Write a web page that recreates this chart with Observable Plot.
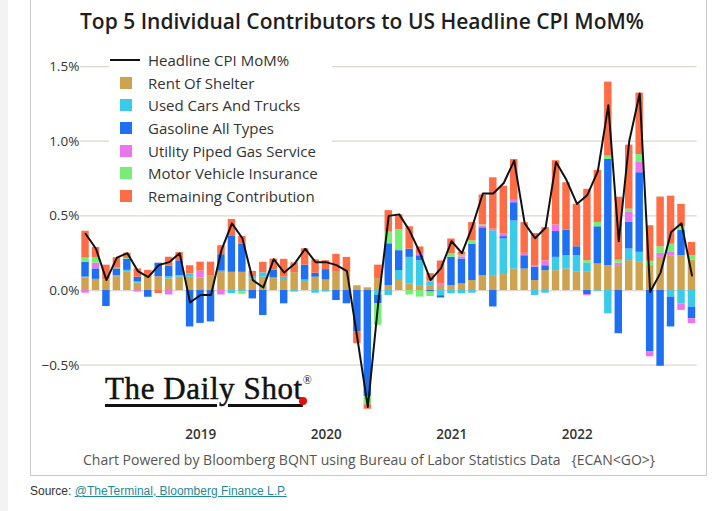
<!DOCTYPE html>
<html><head><meta charset="utf-8">
<script src="https://cdn.jsdelivr.net/npm/d3@7"></script>
<script src="https://cdn.jsdelivr.net/npm/@observablehq/plot@0.6"></script>
<style>
html,body{margin:0;padding:0;background:#fff;}
#page{position:relative;width:722px;height:511px;overflow:hidden;font-family:"Open Sans",sans-serif;}
#strip{position:absolute;left:0;top:0;width:8px;height:511px;background:#f3f3f3;}
#frame{position:absolute;left:30px;top:-1px;width:675px;height:475px;border:1px solid #c9c9c9;}
#chart{position:absolute;left:0;top:0;}
#title{position:absolute;left:80px;top:8px;font-size:21px;line-height:26px;color:#1e1e1e;white-space:nowrap;font-weight:600;}
#legend{position:absolute;left:109px;top:48px;width:223px;height:159px;background:#fff;}
.row{position:absolute;left:0;height:22px;width:223px;font-size:15px;line-height:22px;color:#333;white-space:nowrap;}
.row .lab{position:absolute;left:39px;top:0;}
.row .sw{position:absolute;left:11px;top:5px;width:12px;height:12px;}
.row .ln{position:absolute;left:1px;top:10px;width:30px;height:2px;background:#111;}
#logo{position:absolute;left:105px;top:369px;font-family:"Liberation Serif",serif;font-size:31px;line-height:31px;color:#111;letter-spacing:0.6px;white-space:nowrap;-webkit-text-stroke:0.5px #111;}
#logo .u{text-decoration:underline;text-decoration-thickness:2.5px;text-underline-offset:5px;text-decoration-skip-ink:auto;}
#logo sup{font-size:12px;position:relative;top:-4px;letter-spacing:0;-webkit-text-stroke:0;}
#dot{position:absolute;left:299px;top:397px;width:8px;height:8px;border-radius:50%;background:#e01010;}
#caption{position:absolute;left:83px;top:451px;font-size:14px;line-height:18px;color:#555;white-space:pre;}
#ytl{position:absolute;}
#source{position:absolute;left:30px;top:482px;font-family:"Liberation Sans",Arial,sans-serif;font-size:12px;line-height:18px;color:#333;white-space:nowrap;}
#source a{color:#1f8a98;text-decoration:underline;}
</style>
</head><body>
<div id="page">
  <div id="strip"></div>
  <div id="frame"></div>
  <div id="chart"></div>
  <div id="title"></div>
  <div id="legend"></div>
  <div id="logo"><span class="u">The Daily Shot</span><sup>®</sup></div>
  <div id="dot"></div>
  <div id="caption"></div>
  <div id="source">Source: <a href="#">@TheTerminal, Bloomberg Finance L.P.</a></div>
</div>
<script>
const titleText = "Top 5 Individual Contributors to US Headline CPI MoM%";
const captionText = "Chart Powered by Bloomberg BQNT using Bureau of Labor Statistics Data   {ECAN<GO>}";

const months = [
  "2018-01","2018-02","2018-03","2018-04","2018-05","2018-06","2018-07","2018-08","2018-09","2018-10","2018-11","2018-12",
  "2019-01","2019-02","2019-03","2019-04","2019-05","2019-06","2019-07","2019-08","2019-09","2019-10","2019-11","2019-12",
  "2020-01","2020-02","2020-03","2020-04","2020-05","2020-06","2020-07","2020-08","2020-09","2020-10","2020-11","2020-12",
  "2021-01","2021-02","2021-03","2021-04","2021-05","2021-06","2021-07","2021-08","2021-09","2021-10","2021-11","2021-12",
  "2022-01","2022-02","2022-03","2022-04","2022-05","2022-06","2022-07","2022-08","2022-09","2022-10","2022-11"
];

const seriesNames = ["Rent Of Shelter","Used Cars And Trucks","Gasoline All Types","Utility Piped Gas Service","Motor Vehicle Insurance","Remaining Contribution"];
const seriesColors = ["#CFA24F","#3ACBEA","#1F6FF2","#EC74EC","#74EE74","#FF6D47"];
const lineName = "Headline CPI MoM%";
const lineColor = "#111111";

const shelter = [
  0.085,0.067,0.070,0.093,0.122,0.050,0.100,0.093,0.078,0.089,0.089,0.085,
  0.100,0.120,0.122,0.122,0.078,0.089,0.084,0.067,0.120,0.060,0.089,0.070,
  0.122,0.122,0.027,0.018,0.080,0.033,0.067,0.044,0.033,0.033,0.033,0.033,
  0.044,0.067,0.100,0.100,0.107,0.144,0.144,0.067,0.133,0.133,0.144,0.122,
  0.122,0.178,0.167,0.167,0.200,0.189,0.167,0.222,0.233,0.233,0.204
];
const usedCars = [
  0.005,0.008,0.000,0.007,0.013,0.007,0.000,0.000,0.015,0.010,0.022,0.000,
  0.000,0.010,-0.020,-0.010,0.015,0.030,0.000,0.022,-0.010,0.010,-0.018,-0.010,
  0.000,0.000,0.000,0.000,-0.033,-0.033,0.067,0.178,0.167,0.022,-0.035,-0.022,
  -0.022,-0.018,0.000,0.300,0.238,0.322,0.000,-0.033,-0.018,0.089,0.089,0.111,
  0.060,-0.005,-0.156,0.000,0.078,0.067,0.000,0.000,-0.044,-0.089,-0.111
];
const gasoline = [
  0.100,0.070,-0.107,0.045,0.075,0.033,-0.045,0.090,0.070,0.100,-0.244,-0.220,
  -0.210,0.110,0.244,0.190,-0.056,-0.167,0.053,-0.089,0.000,0.100,0.027,0.070,
  -0.067,-0.089,-0.278,-0.710,-0.055,0.280,0.133,0.055,0.033,-0.010,-0.015,0.190,
  0.167,0.244,0.320,-0.110,0.016,0.122,0.089,0.090,0.033,0.173,0.171,0.060,
  -0.027,0.249,0.711,-0.289,0.178,0.533,-0.411,-0.507,-0.200,0.171,-0.078
];
const utilityGas = [
  -0.018,0.038,0.000,0.000,0.000,-0.010,0.000,0.000,-0.030,0.000,0.000,0.045,
  0.000,-0.030,0.000,0.000,0.000,0.000,0.000,0.000,0.000,0.000,0.000,0.000,
  0.000,0.000,0.000,0.000,0.000,0.000,0.000,0.000,0.015,0.008,0.010,0.000,
  0.015,0.000,0.010,0.011,0.018,0.016,0.016,0.010,0.033,0.044,0.000,0.000,
  -0.008,0.000,0.000,0.016,0.067,0.073,-0.033,0.027,0.022,-0.044,-0.033
];
const insurance = [
  0.027,0.035,0.000,0.005,0.005,0.000,0.000,0.000,0.000,0.000,0.000,0.000,
  0.000,0.000,0.000,-0.015,0.000,0.000,0.000,0.000,0.000,0.000,0.000,0.000,
  0.000,0.000,0.007,-0.055,-0.145,0.078,0.140,-0.030,-0.044,-0.030,0.000,0.022,
  0.011,0.022,0.010,0.000,0.000,0.000,0.000,0.000,0.000,0.000,0.000,0.000,
  0.018,0.029,0.022,0.020,0.022,0.049,0.029,0.044,0.055,0.022,0.029
];
const remaining = [
  0.180,0.070,0.100,0.070,0.035,0.055,0.035,-0.020,0.060,0.055,0.055,0.060,
  0.090,0.060,0.110,0.050,0.035,0.070,0.073,0.120,0.065,0.110,0.090,0.060,
  0.120,0.100,-0.078,-0.030,0.090,0.144,0.100,0.150,0.044,0.050,0.155,0.100,
  0.020,0.122,0.200,0.344,0.320,0.273,0.206,0.215,0.222,0.430,0.318,0.284,
  0.478,0.349,0.496,0.422,0.429,0.411,0.238,0.333,0.322,0.151,0.089
];
const headline = [
  0.38,0.28,0.07,0.22,0.25,0.13,0.09,0.17,0.19,0.25,-0.08,-0.03,
  -0.03,0.27,0.45,0.35,0.07,0.02,0.21,0.12,0.18,0.28,0.19,0.19,
  0.17,0.13,-0.32,-0.78,-0.08,0.50,0.51,0.40,0.25,0.07,0.15,0.33,
  0.25,0.43,0.65,0.65,0.72,0.87,0.45,0.35,0.42,0.86,0.74,0.58,
  0.64,0.80,1.24,0.33,1.00,1.32,-0.01,0.12,0.39,0.45,0.10
];

const yTicks = [-0.5, 0.0, 0.5, 1.0, 1.5];
const xTickYears = [2019, 2020, 2021, 2022];

// ---- build tables ----
const toYear = m => { const [y, mo] = m.split("-").map(Number); return y + (mo - 1) / 12; };
const seriesValues = [shelter, usedCars, gasoline, utilityGas, insurance, remaining];
const table = [];
seriesValues.forEach((vals, s) => vals.forEach((v, i) => {
  const x1 = toYear(months[i]);
  table.push({series: seriesNames[s], x1, x2: x1 + 1 / 12, value: v});
}));
const lineData = months.map((m, i) => ({x: toYear(m) + 1 / 24, value: headline[i]}));
const fmtPct = d => (d < 0 ? "\u2212" : "") + Math.abs(d).toFixed(1) + "%";

const chart = Plot.plot({
  width: 722, height: 475,
  marginLeft: 79.8, marginRight: 25.3, marginTop: 51.1, marginBottom: 65.5,
  x: {type: "linear", domain: [toYear(months[0]), toYear(months[months.length - 1]) + 1 / 12], axis: null},
  y: {domain: [-0.8, 1.6], axis: null},
  color: {domain: seriesNames, range: seriesColors},
  style: {fontFamily: "Open Sans", background: "transparent", overflow: "visible"},
  marks: [
    Plot.ruleY(yTicks, {stroke: "#ddd7cf", strokeWidth: 1.2}),
    Plot.rectY(table, {x1: "x1", x2: "x2", y: "value", fill: "series", insetLeft: 1.5, insetRight: 1.5}),
    Plot.line(lineData, {x: "x", y: "value", stroke: lineColor, strokeWidth: 2, strokeLinejoin: "round"}),
    Plot.text(yTicks, {y: d => d, frameAnchor: "left", textAnchor: "end", dx: -1, text: fmtPct, fontSize: 13.5, fill: "#333"}),
    Plot.text(xTickYears, {x: d => d, frameAnchor: "bottom", dy: 29, dx: -5, text: d => String(d), fontSize: 13.5, fontWeight: 600, fill: "#333"})
  ]
});
document.getElementById("chart").appendChild(chart);

document.getElementById("title").textContent = titleText;
document.getElementById("caption").textContent = captionText;

// legend
const legend = document.getElementById("legend");
const items = [{name: lineName, line: true}].concat(seriesNames.map((n, i) => ({name: n, color: seriesColors[i]})));
items.forEach((it, i) => {
  const row = document.createElement("div");
  row.className = "row";
  row.style.top = (1 + i * 22.67) + "px";
  const sym = document.createElement("div");
  if (it.line) { sym.className = "ln"; } else { sym.className = "sw"; sym.style.background = it.color; }
  const lab = document.createElement("div");
  lab.className = "lab";
  lab.textContent = it.name;
  row.appendChild(sym); row.appendChild(lab);
  legend.appendChild(row);
});
</script>
</body></html>
